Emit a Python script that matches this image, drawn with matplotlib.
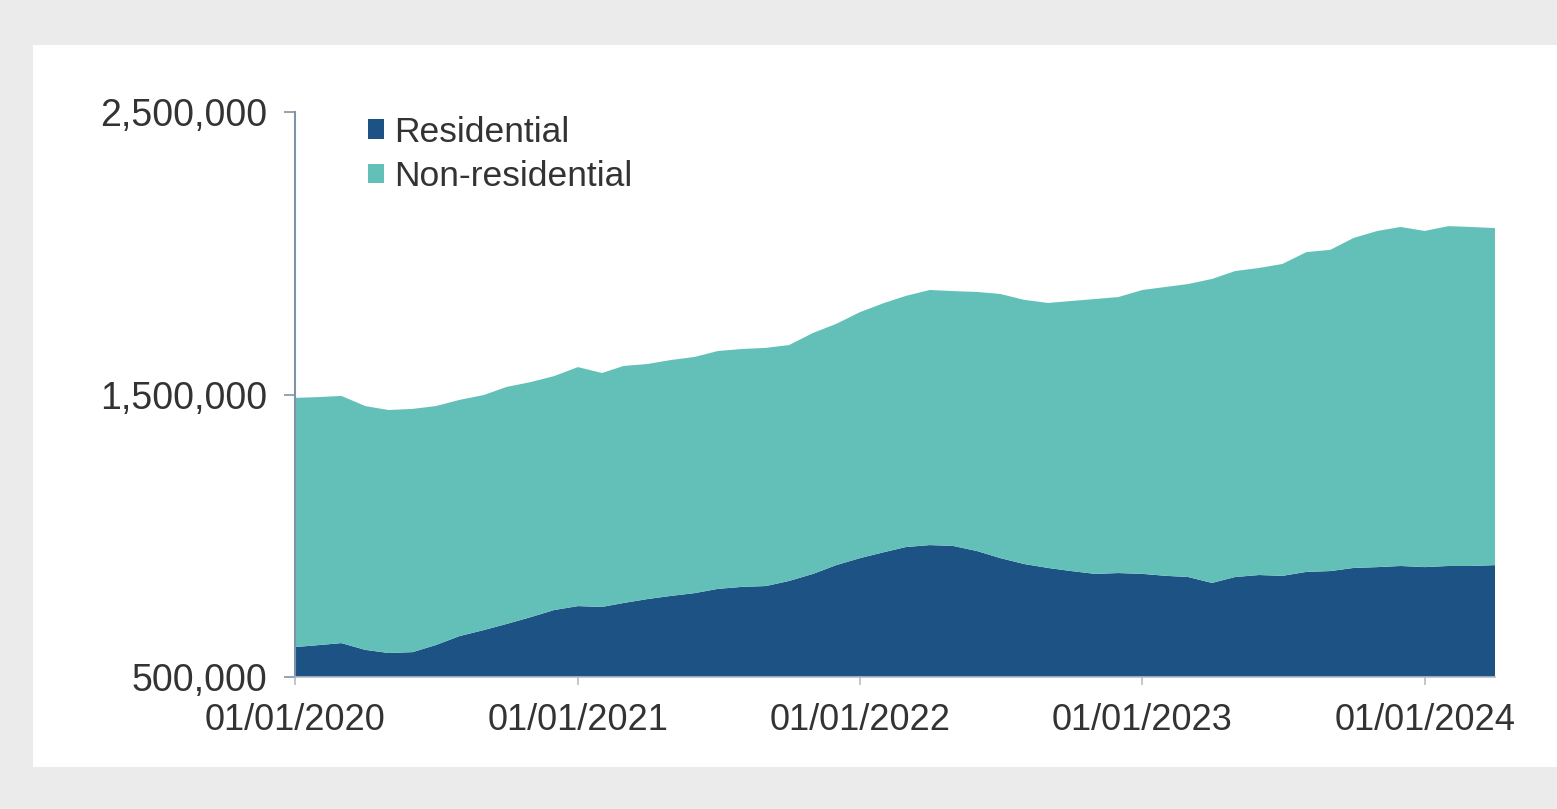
import pandas as pd
import matplotlib
matplotlib.use('Agg')
import matplotlib.pyplot as plt
import matplotlib.dates as mdates
from matplotlib.patches import Rectangle
from matplotlib.ticker import FuncFormatter

plt.rcParams['font.family'] = ['Liberation Sans', 'DejaVu Sans']

# monthly series, Jan 2020 - Apr 2024 (values in thousands)
months = pd.date_range('2020-01-01', '2024-04-01', freq='MS')

residential = [606, 613, 620, 596, 585, 588, 613, 645, 666, 688, 712, 737,
               751, 748, 762, 776, 787, 797, 812, 819, 822, 840, 865, 896,
               921, 942, 960, 967, 964, 946, 921, 900, 886, 875, 865, 868,
               865, 858, 854, 833, 854, 861, 858, 872, 875, 886, 889, 893,
               889, 893, 893, 896]

non_residential = [882, 878, 875, 863, 860, 861, 846, 836, 832, 839, 832, 828,
                   846, 828, 839, 832, 835, 836, 842, 842, 843, 835, 853, 854,
                   871, 882, 889, 903, 902, 917, 935, 935, 938, 956, 973, 977,
                   1005, 1023, 1037, 1076, 1083, 1087, 1104, 1132, 1137, 1168, 1190, 1200,
                   1190, 1203, 1200, 1193]

labels = ['Residential', 'Non-residential']
colors = ['#1d5384', '#62c0b9']
y_ticks = [500000, 1500000, 2500000]

res = [v * 1000 for v in residential]
nonres = [v * 1000 for v in non_residential]

fig = plt.figure(figsize=(15.57, 8.09), dpi=100)
fig.patch.set_facecolor('#ebebeb')
panel = Rectangle((33 / 1557, 1 - 767 / 809), 1 - 33 / 1557, (767 - 45) / 809,
                  transform=fig.transFigure, facecolor='white',
                  edgecolor='none', zorder=-10)
fig.add_artist(panel)

ax = fig.add_axes([295 / 1557, 1 - 677 / 809, 1200 / 1557, 565 / 809])
ax.set_facecolor('none')

ax.stackplot(months, res, nonres, colors=colors, labels=labels, linewidth=0)

ax.set_xlim(months[0], months[-1])
ax.set_ylim(500000, 2500000)
ax.set_yticks(y_ticks)
ax.yaxis.set_major_formatter(FuncFormatter(lambda x, p: f'{x:,.0f}'))
ax.xaxis.set_major_locator(mdates.YearLocator())
ax.xaxis.set_major_formatter(mdates.DateFormatter('%d/%m/%Y'))

for s in ['top', 'right']:
    ax.spines[s].set_visible(False)
ax.spines['left'].set_color('#7f93a8')
ax.spines['left'].set_linewidth(1.5)
ax.spines['bottom'].set_color('#b8bcc4')
ax.spines['bottom'].set_linewidth(1.2)

ax.tick_params(axis='y', length=8, width=1.2, color='#7f93a8', pad=12,
               labelsize=27, labelcolor='#333333')
ax.tick_params(axis='x', length=6, width=1.2, color='#b8bcc4', pad=13,
               labelsize=26, labelcolor='#333333')

handles = [Rectangle((0, 0), 1, 1, facecolor=c, edgecolor='none') for c in colors]
leg = ax.legend(handles, labels, loc='upper left', bbox_to_anchor=(0.034, 1.05),
                frameon=False, fontsize=25.5, handlelength=0.45, handleheight=0.45,
                handletextpad=0.3, labelspacing=0.33, labelcolor='#333333')

plt.savefig('out.png', dpi=100, facecolor=fig.get_facecolor())
